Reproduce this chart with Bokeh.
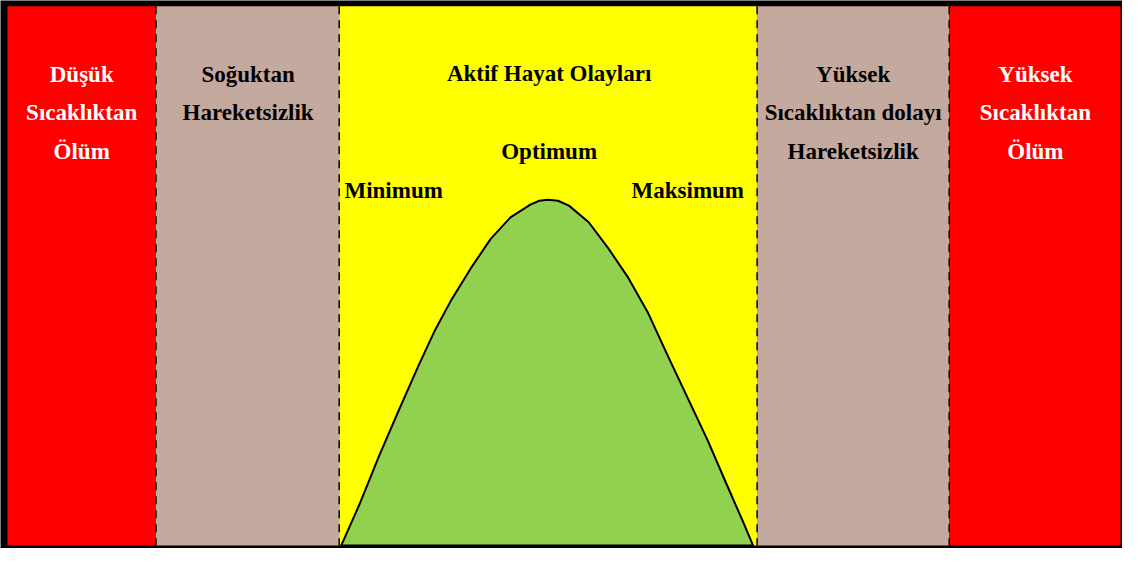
from bokeh.plotting import figure
from bokeh.models import Range1d, ColumnDataSource
from bokeh.core.properties import value
from bokeh.embed import file_html
from bokeh.resources import INLINE

# ---- data (reference pixel coordinates, y grows downward) ----
zone_left = [10, 160, 345, 767, 961]
zone_right = [160, 345, 767, 961, 1134]
zone_colors = ["#FF0000", "#C4A99E", "#FFFF00", "#C4A99E", "#FF0000"]
divider_x = [160, 345, 767, 961]

curve_x = [347, 365, 385, 405, 425, 442, 458, 478, 498, 518, 538, 547, 556,
           566, 577, 597, 617, 637, 657, 677, 697, 717, 737, 753, 763]
curve_y = [561, 520, 470, 423, 377, 340, 310, 277, 247, 225, 212, 208, 207,
           208, 213, 230, 257, 287, 323, 367, 410, 453, 500, 537, 561]

label_text = ["Düşük", "Sıcaklıktan", "Ölüm",
              "Soğuktan", "Hareketsizlik",
              "Aktif Hayat Olayları", "Optimum", "Minimum", "Maksimum",
              "Yüksek", "Sıcaklıktan dolayı", "Hareketsizlik",
              "Yüksek", "Sıcaklıktan", "Ölüm"]
label_x = [85, 85, 85,
           253, 253,
           557, 557, 400, 697,
           864, 864, 864,
           1048, 1048, 1048]
label_y = [79, 118, 158,
           79, 118,
           78, 158, 197, 197,
           79, 118, 158,
           79, 118, 158]
label_color = ["white"] * 3 + ["black"] * 9 + ["white"] * 3

TOP, BOTTOM = 9, 561

p = figure(width=1122, height=548, output_backend="svg", toolbar_location=None,
           x_range=Range1d(3, 1136), y_range=Range1d(564, 3),
           min_border=0, background_fill_color="black", border_fill_color="black")
p.axis.visible = False
p.grid.visible = False
p.outline_line_color = None

zones = ColumnDataSource(dict(left=zone_left, right=zone_right, color=zone_colors,
                              top=[TOP] * 5, bottom=[BOTTOM] * 5))
p.quad(left="left", right="right", top="top", bottom="bottom", fill_color="color",
       line_color=None, source=zones)

p.patch(curve_x, curve_y, fill_color="#92D050", line_color="black", line_width=2,
        line_join="round")

p.segment(x0=divider_x, y0=[TOP] * 4, x1=divider_x, y1=[BOTTOM] * 4,
          line_color="black", line_width=1.5, line_dash="8 6")

labels = ColumnDataSource(dict(x=label_x, y=label_y, text=label_text, color=label_color))
p.text(x="x", y="y", text="text", text_color="color", source=labels,
       text_font=value("Liberation Serif"), text_font_style="bold",
       text_font_size="23px", text_align="center", text_baseline="alphabetic")

open("out.html", "w").write(file_html(p, INLINE))
